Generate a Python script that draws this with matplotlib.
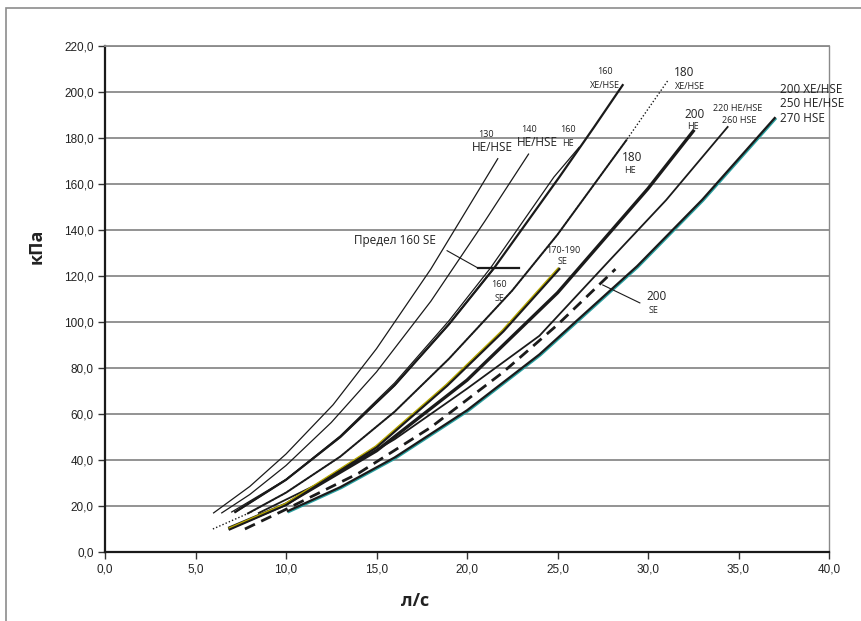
import matplotlib
matplotlib.use("Agg")
import matplotlib.pyplot as plt
from matplotlib.patches import Rectangle
from matplotlib.transforms import offset_copy

# flow l/s and pressure kPa
q130 = [6.0, 8.0, 10.0, 12.6, 15.0, 18.0, 21.7]
p130 = [17.0, 28.5, 42.6, 64.0, 88.4, 123.0, 171.0]
q140 = [6.45, 8.0, 10.0, 12.5, 15.0, 18.0, 21.0, 23.4]
p140 = [17.0, 25.0, 37.6, 56.3, 78.3, 109.0, 144.0, 173.0]
q160he = [7.0, 10.0, 13.0, 16.0, 19.0, 21.3, 24.8, 26.2]
p160he = [17.4, 31.5, 50.5, 73.5, 100.5, 123.5, 163.0, 176.0]
q160xe = [7.2, 10.0, 13.0, 16.0, 19.0, 21.5, 25.1, 27.0, 28.6]
p160xe = [17.4, 31.4, 50.0, 72.5, 99.0, 123.5, 163.0, 184.5, 203.0]
q160se = [7.2, 10.0, 13.0, 16.0, 19.0, 21.5]
p160se = [17.4, 31.4, 50.0, 72.5, 99.0, 123.5]
q180xe = [5.96, 8.0, 10.0, 13.0, 16.0, 19.0, 22.5, 25.0, 28.8, 31.1]
p180xe = [10.0, 17.1, 25.8, 41.5, 61.0, 84.0, 113.7, 138.0, 179.0, 205.0]
q180he = [7.9, 10.0, 13.0, 16.0, 19.0, 22.5, 25.0, 28.8]
p180he = [16.8, 25.8, 41.5, 61.0, 84.0, 113.7, 138.0, 179.0]
q170se = [6.9, 10.0, 13.0, 15.0, 18.9, 22.0, 25.08]
p170se = [10.0, 20.6, 35.6, 45.6, 72.4, 96.0, 123.0]
q200he = [6.9, 10.0, 15.0, 20.0, 25.0, 30.0, 32.5]
p200he = [10.5, 20.8, 44.0, 74.7, 112.7, 158.0, 183.0]
q220 = [8.5, 12.0, 16.0, 20.0, 24.0, 27.9, 31.0, 34.4]
p220 = [17.0, 30.5, 49.0, 71.0, 94.0, 127.0, 153.0, 184.8]
q200xe = [10.1, 13.0, 16.0, 20.0, 24.0, 29.4, 33.0, 37.0]
p200xe = [17.8, 28.2, 41.1, 61.6, 85.9, 124.3, 153.2, 188.7]
q200se = [7.73, 9.8, 14.0, 18.0, 22.0, 25.0, 28.2]
p200se = [10.0, 17.8, 34.2, 54.2, 78.2, 98.8, 123.0]

x_ticks = [0, 5, 10, 15, 20, 25, 30, 35, 40]
y_ticks = [0, 20, 40, 60, 80, 100, 120, 140, 160, 180, 200, 220]

fig = plt.figure(figsize=(8.61, 6.21), dpi=100)
fig.patches.append(Rectangle((6/861, -0.05), 1.2, 1 - 8/621 + 0.05, transform=fig.transFigure,
                             fill=False, edgecolor='#8c8c8c', linewidth=1.2))
ax = fig.add_axes([105/861, 69/621, 724/861, 506/621])

for y in y_ticks[1:]:
    ax.axhline(y, color='#8a8a8a', lw=1.3, zorder=1)

k = '#1a1a1a'
ax.plot(q130, p130, color=k, lw=0.9, zorder=3)
ax.plot(q140, p140, color=k, lw=0.9, zorder=3)
ax.plot(q160he, p160he, color=k, lw=0.9, zorder=3)
ax.plot(q160xe, p160xe, color=k, lw=1.6, zorder=3)
ax.plot(q160se, p160se, color=k, lw=1.2, zorder=3)
ax.plot(q180he, p180he, color=k, lw=1.4, zorder=3)
ax.plot(q180xe, p180xe, color=k, lw=1.0, ls=(0, (1, 1.5)), zorder=4)
ax.plot(q200he, p200he, color=k, lw=2.4, zorder=3)
ax.plot(q170se, p170se, color=k, lw=2.0, zorder=3)
ax.plot(q170se, p170se, color='#b8a800', lw=0.9, zorder=4,
        transform=offset_copy(ax.transData, fig=fig, x=-1, y=1, units='dots'))
ax.plot(q220, p220, color=k, lw=1.3, zorder=3)
ax.plot(q200xe, p200xe, color='#2aa0a0', lw=1.5, zorder=3,
        transform=offset_copy(ax.transData, fig=fig, x=1, y=-1, units='dots'))
ax.plot(q200xe, p200xe, color=k, lw=1.6, zorder=4)
ax.plot(q200se, p200se, color=k, lw=2.0, ls=(0, (4, 2.5)), zorder=3)

ax.set_xlim(0, 40)
ax.set_ylim(0, 220)
ax.set_xticks(x_ticks)
ax.set_yticks(y_ticks)
ax.set_xticklabels([('%.1f' % v).replace('.', ',') for v in x_ticks])
ax.set_yticklabels([('%.1f' % v).replace('.', ',') for v in y_ticks])
ax.tick_params(direction='out', length=5, width=1, color='#333333', labelsize=8.5, pad=3,
               labelcolor='#222222')
for lab in ax.get_xticklabels() + ax.get_yticklabels():
    lab.set_fontfamily('Liberation Sans')
for s in ['left', 'bottom']:
    ax.spines[s].set_linewidth(1.6)
    ax.spines[s].set_color(k)
ax.spines['top'].set_color('#8a8a8a')
ax.spines['top'].set_linewidth(1.3)
ax.spines['right'].set_color('#8a8a8a')
ax.spines['right'].set_linewidth(1.0)

fig.text(415/861, 1 - 601/621, 'л/с', fontsize=13, fontweight='bold', fontfamily='Open Sans',
         ha='center', va='center', color='#222222')
fig.text(37/861, 1 - 246/621, 'кПа', fontsize=13, fontweight='bold', fontfamily='Open Sans',
         ha='center', va='center', rotation=90, color='#222222')

f = 'Open Sans'
c = '#222222'
def t(x, y, s, size):
    ax.text(x, y, s, fontsize=size, ha='center', va='center', fontfamily=f, color=c)

t(21.05, 181.7, '130', 6.5)
t(21.4, 176.0, 'HE/HSE', 8.5)
t(23.4, 183.5, '140', 6.5)
t(23.9, 178.2, 'HE/HSE', 8.5)
t(25.6, 183.5, '160', 6.5)
t(25.6, 177.8, 'HE', 6.5)
t(27.6, 208.7, '160', 6.5)
t(27.6, 203.0, 'XE/HSE', 6.5)
t(32.0, 208.3, '180', 8.5)
t(32.3, 202.2, 'XE/HSE', 6.5)
t(29.1, 171.7, '180', 8.5)
t(29.0, 166.0, 'HE', 6.5)
t(32.6, 190.4, '200', 8.5)
t(32.5, 184.8, 'HE', 6.5)
t(34.97, 193.0, '220 HE/HSE', 6.5)
t(35.03, 187.8, '260 HSE', 6.5)
for yy, s in [(201.3, '200 XE/HSE'), (194.8, '250 HE/HSE'), (188.3, '270 HSE')]:
    ax.text(37.3, yy, s, fontsize=8.5, ha='left', va='center', fontfamily=f, color=c)
t(16.0, 135.6, 'Предел 160 SE', 8.5)
ax.plot([18.9, 20.6], [131.0, 123.5], color=k, lw=0.8, zorder=5)
ax.plot([20.6, 22.9], [123.5, 123.5], color=k, lw=1.6, zorder=5)
t(21.77, 116.1, '160', 6.5)
t(21.77, 110.4, 'SE', 6.5)
t(25.3, 131.3, '170-190', 6.5)
t(25.3, 126.1, 'SE', 6.5)
t(30.5, 111.3, '200', 8.5)
t(30.3, 105.2, 'SE', 6.5)
ax.plot([27.5, 29.55], [116.1, 108.3], color=k, lw=0.8, zorder=5)

fig.savefig('out.png', dpi=100)
